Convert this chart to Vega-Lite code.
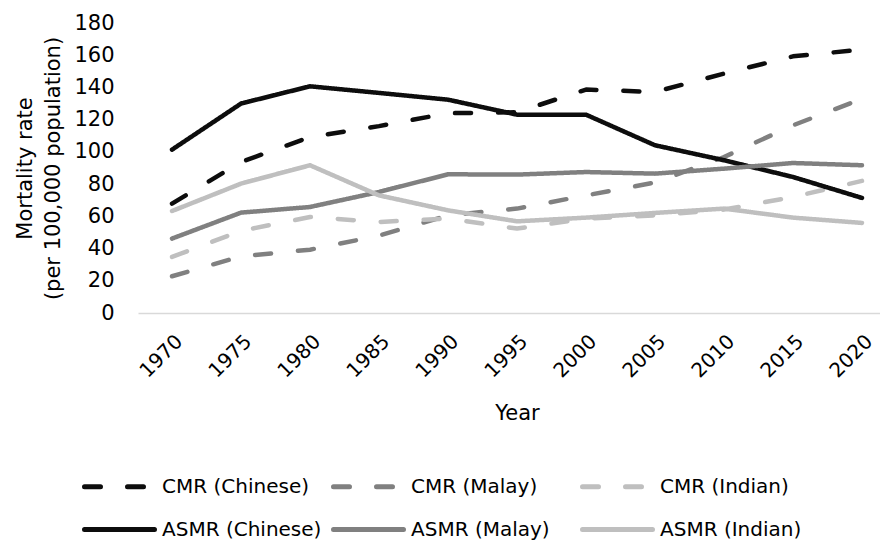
{
  "$schema": "https://vega.github.io/schema/vega-lite/v6.json",
  "width": 742,
  "height": 290,
  "autosize": "none",
  "padding": {"left": 138, "top": 23, "right": 0, "bottom": 229},
  "background": "white",
  "config": {
    "view": {"stroke": null},
    "font": "DejaVu Sans",
    "axis": {"labelFont": "DejaVu Sans", "titleFont": "DejaVu Sans", "labelColor": "#000000", "titleColor": "#000000", "titleFontWeight": "normal"},
    "legend": {"labelFont": "DejaVu Sans"}
  },
  "data": {
    "values": [
      {"Year": "1970", "Series": "CMR (Chinese)", "Rate": 67.9},
      {"Year": "1975", "Series": "CMR (Chinese)", "Rate": 93.7},
      {"Year": "1980", "Series": "CMR (Chinese)", "Rate": 109.2},
      {"Year": "1985", "Series": "CMR (Chinese)", "Rate": 116},
      {"Year": "1990", "Series": "CMR (Chinese)", "Rate": 124},
      {"Year": "1995", "Series": "CMR (Chinese)", "Rate": 124.6},
      {"Year": "2000", "Series": "CMR (Chinese)", "Rate": 138.7},
      {"Year": "2005", "Series": "CMR (Chinese)", "Rate": 137.2},
      {"Year": "2010", "Series": "CMR (Chinese)", "Rate": 148.6},
      {"Year": "2015", "Series": "CMR (Chinese)", "Rate": 159.3},
      {"Year": "2020", "Series": "CMR (Chinese)", "Rate": 163.5},
      {"Year": "1970", "Series": "CMR (Malay)", "Rate": 22.8},
      {"Year": "1975", "Series": "CMR (Malay)", "Rate": 35.2},
      {"Year": "1980", "Series": "CMR (Malay)", "Rate": 39.3},
      {"Year": "1985", "Series": "CMR (Malay)", "Rate": 48},
      {"Year": "1990", "Series": "CMR (Malay)", "Rate": 60.6},
      {"Year": "1995", "Series": "CMR (Malay)", "Rate": 64.8},
      {"Year": "2000", "Series": "CMR (Malay)", "Rate": 73},
      {"Year": "2005", "Series": "CMR (Malay)", "Rate": 81},
      {"Year": "2010", "Series": "CMR (Malay)", "Rate": 96.8},
      {"Year": "2015", "Series": "CMR (Malay)", "Rate": 116.5},
      {"Year": "2020", "Series": "CMR (Malay)", "Rate": 133},
      {"Year": "1970", "Series": "CMR (Indian)", "Rate": 34.8},
      {"Year": "1975", "Series": "CMR (Indian)", "Rate": 51},
      {"Year": "1980", "Series": "CMR (Indian)", "Rate": 59.6},
      {"Year": "1985", "Series": "CMR (Indian)", "Rate": 56.5},
      {"Year": "1990", "Series": "CMR (Indian)", "Rate": 58.6},
      {"Year": "1995", "Series": "CMR (Indian)", "Rate": 52.4},
      {"Year": "2000", "Series": "CMR (Indian)", "Rate": 58.6},
      {"Year": "2005", "Series": "CMR (Indian)", "Rate": 60.6},
      {"Year": "2010", "Series": "CMR (Indian)", "Rate": 64.2},
      {"Year": "2015", "Series": "CMR (Indian)", "Rate": 72},
      {"Year": "2020", "Series": "CMR (Indian)", "Rate": 82},
      {"Year": "1970", "Series": "ASMR (Chinese)", "Rate": 101.4},
      {"Year": "1975", "Series": "ASMR (Chinese)", "Rate": 130},
      {"Year": "1980", "Series": "ASMR (Chinese)", "Rate": 140.7},
      {"Year": "1985", "Series": "ASMR (Chinese)", "Rate": 136.6},
      {"Year": "1990", "Series": "ASMR (Chinese)", "Rate": 132.4},
      {"Year": "1995", "Series": "ASMR (Chinese)", "Rate": 123.1},
      {"Year": "2000", "Series": "ASMR (Chinese)", "Rate": 123.1},
      {"Year": "2005", "Series": "ASMR (Chinese)", "Rate": 104.1},
      {"Year": "2010", "Series": "ASMR (Chinese)", "Rate": 94.8},
      {"Year": "2015", "Series": "ASMR (Chinese)", "Rate": 84.4},
      {"Year": "2020", "Series": "ASMR (Chinese)", "Rate": 71.4},
      {"Year": "1970", "Series": "ASMR (Malay)", "Rate": 46.2},
      {"Year": "1975", "Series": "ASMR (Malay)", "Rate": 62.3},
      {"Year": "1980", "Series": "ASMR (Malay)", "Rate": 65.8},
      {"Year": "1985", "Series": "ASMR (Malay)", "Rate": 75.1},
      {"Year": "1990", "Series": "ASMR (Malay)", "Rate": 86.1},
      {"Year": "1995", "Series": "ASMR (Malay)", "Rate": 85.9},
      {"Year": "2000", "Series": "ASMR (Malay)", "Rate": 87.5},
      {"Year": "2005", "Series": "ASMR (Malay)", "Rate": 86.5},
      {"Year": "2010", "Series": "ASMR (Malay)", "Rate": 89.6},
      {"Year": "2015", "Series": "ASMR (Malay)", "Rate": 93.1},
      {"Year": "2020", "Series": "ASMR (Malay)", "Rate": 91.7},
      {"Year": "1970", "Series": "ASMR (Indian)", "Rate": 63.3},
      {"Year": "1975", "Series": "ASMR (Indian)", "Rate": 80.3},
      {"Year": "1980", "Series": "ASMR (Indian)", "Rate": 91.7},
      {"Year": "1985", "Series": "ASMR (Indian)", "Rate": 73},
      {"Year": "1990", "Series": "ASMR (Indian)", "Rate": 63.7},
      {"Year": "1995", "Series": "ASMR (Indian)", "Rate": 56.9},
      {"Year": "2000", "Series": "ASMR (Indian)", "Rate": 59.2},
      {"Year": "2005", "Series": "ASMR (Indian)", "Rate": 62.1},
      {"Year": "2010", "Series": "ASMR (Indian)", "Rate": 64.8},
      {"Year": "2015", "Series": "ASMR (Indian)", "Rate": 59.2},
      {"Year": "2020", "Series": "ASMR (Indian)", "Rate": 55.9}
    ]
  },
  "mark": {"type": "line", "strokeWidth": 4.5, "strokeCap": "round", "strokeJoin": "round"},
  "encoding": {
    "x": {
      "field": "Year",
      "type": "ordinal",
      "scale": {"type": "point", "padding": 0.377, "align": 0.654},
      "axis": {
        "title": "Year",
        "titleFontSize": 21,
        "titleX": 379,
        "titleY": 100,
        "titleAlign": "center",
        "titleBaseline": "middle",
        "labelAngle": -45,
        "labelFontSize": 20,
        "labelPadding": 18,
        "labelDx": -4,
        "ticks": false,
        "domain": true,
        "domainColor": "#d9d9d9",
        "domainWidth": 1.5,
        "grid": false
      }
    },
    "y": {
      "field": "Rate",
      "type": "quantitative",
      "scale": {"domain": [0, 180], "nice": false},
      "axis": {
        "title": ["Mortality rate", "(per 100,000 population)"],
        "titleFontSize": 21,
        "titleLineHeight": 28,
        "titlePadding": 10,
        "values": [0, 20, 40, 60, 80, 100, 120, 140, 160, 180],
        "labelFontSize": 21,
        "labelPadding": 24,
        "ticks": false,
        "domain": false,
        "grid": false
      }
    },
    "color": {
      "field": "Series",
      "type": "nominal",
      "scale": {
        "domain": ["CMR (Chinese)", "CMR (Malay)", "CMR (Indian)", "ASMR (Chinese)", "ASMR (Malay)", "ASMR (Indian)"],
        "range": ["#0d0d0d", "#808080", "#bfbfbf", "#0d0d0d", "#808080", "#bfbfbf"]
      },
      "legend": {
        "title": null,
        "orient": "none",
        "legendX": -56,
        "legendY": 447,
        "direction": "horizontal",
        "columns": 3,
        "gridAlign": "all",
        "columnPadding": 1,
        "rowPadding": 16,
        "labelFontSize": 20,
        "labelColor": "#000000",
        "labelOffset": 47,
        "symbolType": "M-1,0H4",
        "symbolSize": 784,
        "symbolStrokeWidth": 5,
        "encode": {"symbols": {"update": {"strokeCap": {"value": "round"}}}}
      }
    },
    "strokeDash": {
      "field": "Series",
      "type": "nominal",
      "scale": {
        "domain": ["CMR (Chinese)", "CMR (Malay)", "CMR (Indian)", "ASMR (Chinese)", "ASMR (Malay)", "ASMR (Indian)"],
        "range": [[16, 27], [16, 27], [16, 27], [1, 0], [1, 0], [1, 0]]
      },
      "legend": {
        "title": null,
        "orient": "none",
        "legendX": -56,
        "legendY": 447,
        "direction": "horizontal",
        "columns": 3,
        "gridAlign": "all",
        "columnPadding": 1,
        "rowPadding": 16,
        "labelFontSize": 20,
        "labelColor": "#000000",
        "labelOffset": 47,
        "symbolType": "M-1,0H4",
        "symbolSize": 784,
        "symbolStrokeWidth": 5,
        "encode": {"symbols": {"update": {"strokeCap": {"value": "round"}}}}
      }
    }
  }
}
